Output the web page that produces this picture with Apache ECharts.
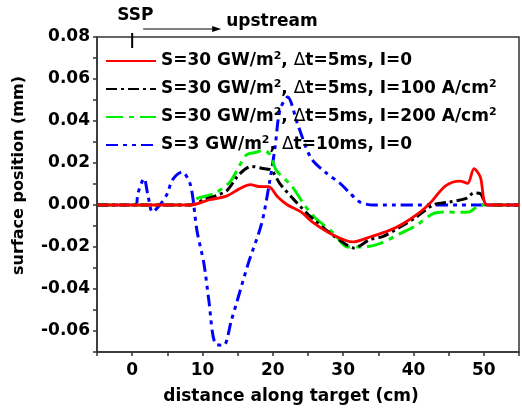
<!DOCTYPE html>
<html>
<head>
<meta charset="UTF-8">
<title>surface position</title>
<script src="https://cdn.jsdelivr.net/npm/echarts@6/dist/echarts.min.js"></script>
<style>
  html, body { margin: 0; padding: 0; background: #fff; }
  #chart { width: 522px; height: 412px; }
</style>
</head>
<body>
<div id="chart"></div>
<script>
// [distance (cm), surface position (mm)]
const red = [[-5,0],[8.3,0],[11,0.0025],[13.4,0.0042],[15.3,0.0078],[16.8,0.0097],[18,0.0088],[19.4,0.0087],
  [20.7,0.0038],[22.1,0],[24,-0.0033],[25.7,-0.0083],[28.3,-0.0138],[31.4,-0.0176],[34,-0.015],[36.5,-0.0122],
  [38.5,-0.0089],[40.9,-0.0035],[42.3,0.0007],[44.6,0.0092],[46.6,0.0114],[47.7,0.0103],[48.6,0.0173],
  [49.5,0.0133],[50.5,0],[55,0]];
const black = [[-5,0],[8.3,0],[10.2,0.0025],[12,0.0045],[13.5,0.007],[15.2,0.0145],[17,0.0184],[18.4,0.0175],
  [19.8,0.0165],[21,0.0102],[23.1,0.0022],[25.4,-0.0057],[28.2,-0.0136],[30.5,-0.019],[31.5,-0.0205],
  [33.8,-0.0165],[35.7,-0.0149],[38.1,-0.0105],[40.4,-0.0057],[42.8,0],[45.1,0.0014],[47.4,0.003],
  [48.6,0.0057],[49.5,0.0054],[50.5,0],[55,0]];
const green = [[-5,0],[8.3,0],[9.2,0.003],[11.6,0.0054],[13.9,0.011],[15.3,0.019],[16.3,0.024],[17.5,0.025],
  [18.7,0.026],[19.6,0.024],[20.5,0.0165],[22.6,0.0094],[24.5,0],[25.9,-0.0057],[28.7,-0.0136],[30.6,-0.02],
  [32.9,-0.02],[35.2,-0.0184],[38.1,-0.0136],[40.4,-0.0097],[42.8,-0.0041],[44.6,-0.0033],[46.5,-0.0035],
  [47.9,-0.0033],[49.5,0],[55,0]];
const blue = [[-5,0],[0.5,0],[0.8,0.0054],[1.7,0.0126],[2.2,0.0054],[2.9,-0.0033],[4.1,0.0007],[5,0.0054],
  [5.7,0.0118],[7.1,0.0157],[8.3,0.0094],[9.2,-0.012],[10.2,-0.0279],[10.9,-0.0454],[11.8,-0.066],[13,-0.0668],
  [14.1,-0.055],[14.9,-0.046],[16.5,-0.0279],[18.4,-0.0089],[19.5,0.0102],[20.3,0.027],[21,0.0451],
  [22.1,0.0514],[23.5,0.0388],[25.4,0.0225],[27.5,0.0155],[29.6,0.0102],[30.8,0.0062],[32.4,0.0014],
  [34.3,0],[55,0]];

const names = [
  'S=30 GW/m^2, Δt=5ms, I=0',
  'S=30 GW/m^2, Δt=5ms, I=100 A/cm^2',
  'S=30 GW/m^2, Δt=5ms, I=200 A/cm^2',
  'S=3 GW/m^2, Δt=10ms, I=0'
];
const colors = ['#ff0000', '#000000', '#00ee00', '#0000ff'];
const dashes = ['solid', [11, 4, 3, 4], [17, 6, 5, 6], [12, 5, 4, 5, 4, 5]];
const widths = [2.8, 3, 3, 3];
const datasets = [red, black, green, blue];

const FONT = 'DejaVu Sans';
const chart = echarts.init(document.getElementById('chart'));

chart.setOption({
  animation: false,
  grid: { left: 97, top: 37, right: -3, bottom: 60, show: true, borderColor: '#333', borderWidth: 1.5 },
  legend: {
    orient: 'vertical', left: 100, top: 46,
    itemWidth: 50, itemHeight: 14, itemGap: 8,
    data: names,
    itemStyle: { opacity: 0 },
    textStyle: {
      fontFamily: FONT, fontWeight: 'bold', fontSize: 17, color: '#000', lineHeight: 20,
      rich: {
        sup: { fontFamily: FONT, fontWeight: 'bold', fontSize: 11, lineHeight: 11, padding: [0, 0, 9, 0], color: '#000' },
        d: { fontFamily: FONT, fontWeight: 'normal', fontSize: 17, color: '#000' }
      }
    },
    formatter: n => n.replace(/\^2/g, '{sup|2}').replace('Δ', '{d|Δ}')
  },
  xAxis: {
    type: 'value', min: -5, max: 55, interval: 5,
    name: 'distance along target (cm)', nameLocation: 'middle', nameGap: 36,
    nameTextStyle: { fontFamily: FONT, fontWeight: 'bold', fontSize: 17, color: '#000', padding: [0, 34, 0, 0] },
    axisLine: { onZero: false, lineStyle: { color: '#333', width: 1.5 } },
    axisTick: { length: 4, lineStyle: { color: '#333', width: 1.5 } },
    splitLine: { show: false },
    axisLabel: {
      fontFamily: FONT, fontWeight: 'bold', fontSize: 17, color: '#000', margin: 10,
      formatter: v => (v % 10 === 0 ? String(v) : '')
    }
  },
  yAxis: {
    type: 'value', min: -0.07, max: 0.08, interval: 0.01,
    name: 'surface position (mm)', nameLocation: 'middle', nameGap: 70,
    nameTextStyle: { fontFamily: FONT, fontWeight: 'bold', fontSize: 16, color: '#000', padding: [0, 0, 0, 38] },
    axisLine: { onZero: false, lineStyle: { color: '#333', width: 1.5 } },
    axisTick: { length: 4, lineStyle: { color: '#333', width: 1.5 } },
    splitLine: { show: false },
    axisLabel: {
      fontFamily: FONT, fontWeight: 'bold', fontSize: 17, color: '#000', margin: 7,
      formatter: v => (Math.round(v * 100) % 2 === 0 ? v.toFixed(2) : '')
    }
  },
  series: datasets.map((d, i) => ({
    name: names[i], type: 'line', data: d, symbol: 'none', smooth: 0.3,
    itemStyle: { color: colors[i] },
    lineStyle: { color: colors[i], width: widths[i], type: dashes[i], cap: 'butt' },
    z: 4 - i
  }))
});

// SSP marker and upstream arrow above the frame
const x0 = chart.convertToPixel({ gridIndex: 0 }, [0, 0])[0];
const topY = 37;
chart.setOption({
  graphic: [
    { type: 'line', shape: { x1: x0, y1: topY - 4, x2: x0, y2: topY + 11 }, style: { stroke: '#000', lineWidth: 2 } },
    { type: 'text', left: x0 - 15, top: 7, style: { text: 'SSP', font: 'bold 17px ' + FONT, fill: '#000' } },
    { type: 'line', shape: { x1: x0 + 11, y1: topY - 8, x2: x0 + 82, y2: topY - 8 }, style: { stroke: '#000', lineWidth: 1 } },
    { type: 'polygon', shape: { points: [[x0 + 89, topY - 8], [x0 + 80, topY - 11], [x0 + 80, topY - 5]] }, style: { fill: '#000' } },
    { type: 'text', left: x0 + 94, top: 13, style: { text: 'upstream', font: 'bold 17px ' + FONT, fill: '#000' } }
  ]
});
</script>
</body>
</html>
